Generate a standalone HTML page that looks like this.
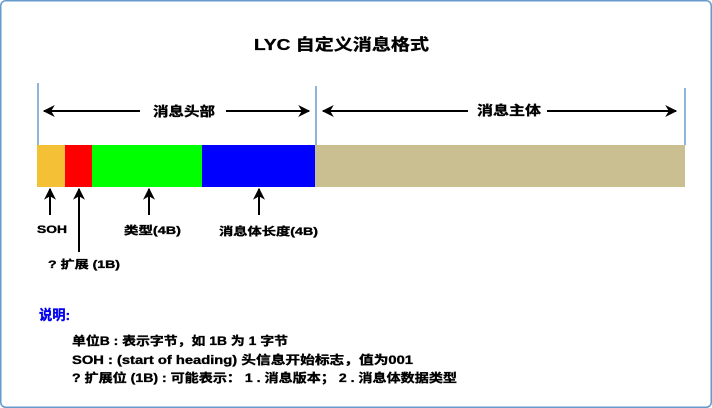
<!DOCTYPE html>
<html><head><meta charset="utf-8"><style>
html,body{margin:0;padding:0;background:#fff;}
svg{display:block;}
text{font-family:"Liberation Sans","Noto Sans CJK SC",sans-serif;font-weight:bold;fill:#000;stroke:#000;stroke-width:0.35;}
</style></head><body>
<svg width="712" height="408" viewBox="0 0 712 408" xmlns="http://www.w3.org/2000/svg">
<defs>
<marker id="ah2" viewBox="0 0 10 10" refX="9" refY="5" markerWidth="14" markerHeight="12" markerUnits="userSpaceOnUse" orient="auto-start-reverse">
<path d="M0,0 L10,5 L0,10 L3,5 z" fill="#000"/></marker>
</defs>
<rect x="0.75" y="0.75" width="710.5" height="406.5" rx="5" fill="#fff" stroke="#6699cc" stroke-width="1.5"/>
<text x="254" y="50" font-size="16" textLength="175" lengthAdjust="spacingAndGlyphs">LYC 自定义消息格式</text>
<line x1="38" y1="83" x2="38" y2="145" stroke="#6a9bd0" stroke-width="1.5"/>
<line x1="316" y1="86" x2="316" y2="145" stroke="#6a9bd0" stroke-width="1.5"/>
<line x1="685" y1="88" x2="685" y2="145" stroke="#6a9bd0" stroke-width="1.5"/>
<line x1="44" y1="111" x2="140" y2="111" stroke="#000" stroke-width="2" marker-start="url(#ah2)"/>
<line x1="226" y1="111" x2="309" y2="111" stroke="#000" stroke-width="2" marker-end="url(#ah2)"/>
<text x="153" y="116" font-size="13" textLength="62" lengthAdjust="spacingAndGlyphs">消息头部</text>
<line x1="323" y1="111" x2="468" y2="111" stroke="#000" stroke-width="2" marker-start="url(#ah2)"/>
<line x1="547" y1="111" x2="676" y2="111" stroke="#000" stroke-width="2" marker-end="url(#ah2)"/>
<text x="477" y="115" font-size="13" textLength="64" lengthAdjust="spacingAndGlyphs">消息主体</text>
<rect x="37" y="145" width="28" height="42" fill="#f4c136"/>
<rect x="65" y="145" width="27" height="42" fill="#ff0000"/>
<rect x="92" y="145" width="110" height="42" fill="#00ff00"/>
<rect x="202" y="145" width="113" height="42" fill="#0000ff"/>
<rect x="315" y="145" width="370" height="42" fill="#c9bf91"/>
<line x1="50" y1="215" x2="50" y2="189" stroke="#000" stroke-width="2" marker-end="url(#ah2)"/>
<line x1="79" y1="252" x2="79" y2="189" stroke="#000" stroke-width="2" marker-end="url(#ah2)"/>
<line x1="149" y1="215" x2="149" y2="189" stroke="#000" stroke-width="2" marker-end="url(#ah2)"/>
<line x1="259" y1="215" x2="259" y2="189" stroke="#000" stroke-width="2" marker-end="url(#ah2)"/>
<text x="37" y="233" font-size="11" textLength="30" lengthAdjust="spacingAndGlyphs">SOH</text>
<text x="48" y="268" font-size="11" textLength="72" lengthAdjust="spacingAndGlyphs">? 扩展 (1B)</text>
<text x="124" y="234" font-size="11" textLength="57" lengthAdjust="spacingAndGlyphs">类型(4B)</text>
<text x="219" y="235" font-size="11" textLength="99" lengthAdjust="spacingAndGlyphs">消息体长度(4B)</text>
<text x="39" y="320" font-size="14" style="fill:#0000ee;stroke:#0000ee" textLength="31" lengthAdjust="spacingAndGlyphs">说明:</text>
<text x="72" y="345" font-size="12" textLength="216" lengthAdjust="spacingAndGlyphs">单位B : 表示字节，如 1B 为 1 字节</text>
<text x="72" y="364" font-size="12" textLength="341" lengthAdjust="spacingAndGlyphs">SOH : (start of heading) 头信息开始标志，值为001</text>
<text x="72" y="382" font-size="12" textLength="385" lengthAdjust="spacingAndGlyphs">? 扩展位 (1B) : 可能表示： 1 . 消息版本； 2 . 消息体数据类型</text>
</svg>
</body></html>
